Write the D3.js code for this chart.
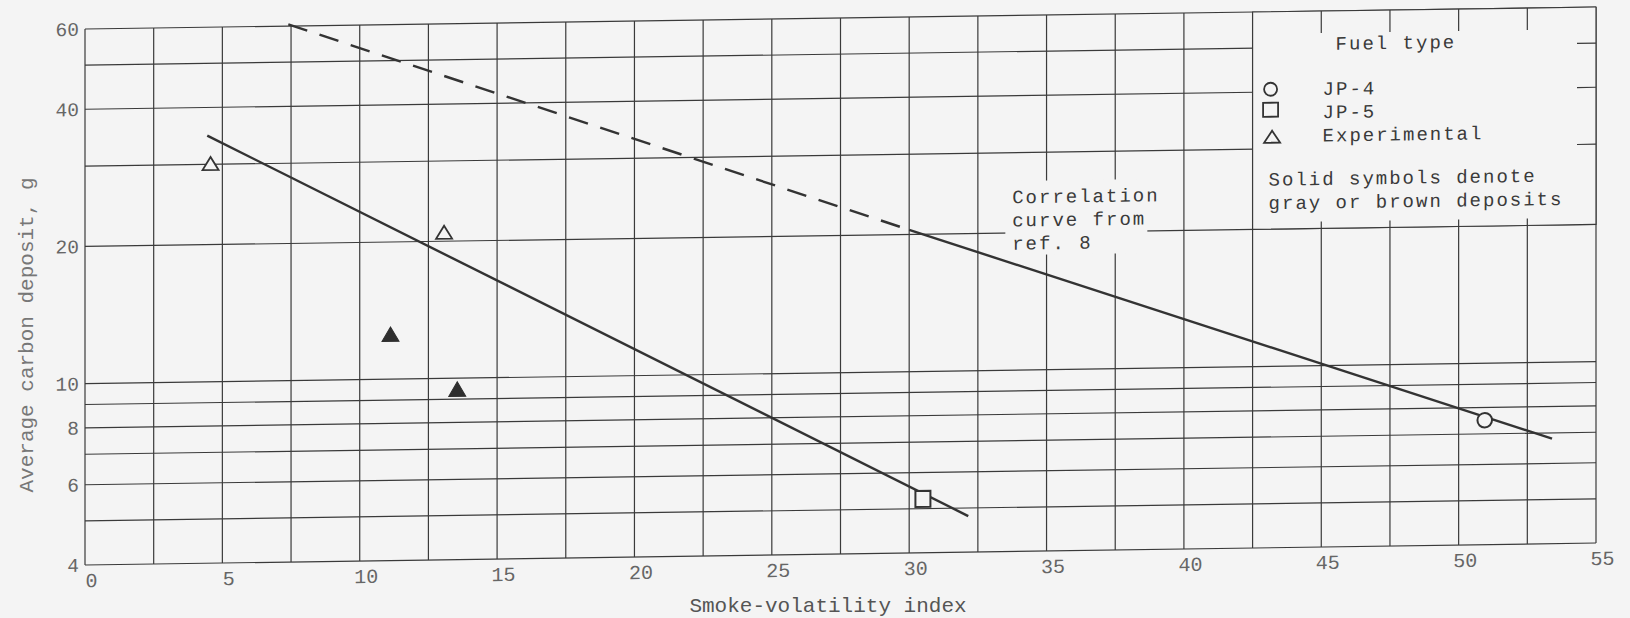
<!DOCTYPE html>
<html>
<head>
<meta charset="utf-8">
<script src="https://cdn.jsdelivr.net/npm/d3@7"></script>
<style>
  body { margin: 0; background: #f4f4f4; }
  svg { display: block; }
  text { font-family: "Liberation Mono", "DejaVu Sans Mono", monospace; }
</style>
</head>
<body>
<svg id="chart"></svg>
<script>
// values
const xTicks = [0, 5, 10, 15, 20, 25, 30, 35, 40, 45, 50, 55];
const yTicks = [4, 6, 8, 10, 20, 40, 60];
const gridX = [0, 2.5, 5, 7.5, 10, 12.5, 15, 17.5, 20, 22.5, 25, 27.5, 30, 32.5, 35, 37.5, 40, 42.5, 45, 47.5, 50, 52.5, 55];
const gridY = [4, 5, 6, 7, 8, 9, 10, 20, 30, 40, 50, 60];

const jp4 = [[50.95, 7.5]];
const jp5 = [[30.5, 5.25]];
const expOpen = [[4.57, 29.8], [13.07, 20.7]];
const expSolid = [[11.12, 12.4], [13.55, 9.35]];

const fitLine = [[4.45, 34.7], [32.15, 4.8]];
const refDashed = [[7.4, 60.5], [30, 20.47]];
const refSolid = [[30, 20.47], [53.4, 6.8]];

const legendItems = ["JP-4", "JP-5", "Experimental"];
const noteLines = ["Correlation", "curve from", "ref. 8"];

var width = 1630, height = 618;
var ink = "#3a3a3a";

var svg = d3.select("#chart")
    .attr("width", width)
    .attr("height", height);

svg.append("rect")
    .attr("width", width)
    .attr("height", height)
    .attr("fill", "#f4f4f4");

var x = d3.scaleLinear().domain([0, 55]).range([85, 1596]);
var y = d3.scaleLog().domain([4, 60]).range([565, 29]);

// the scan is a little crooked, so the whole sheet is sheared a bit
var tilt = -Math.atan(22 / 1512) * 180 / Math.PI;
var g = svg.append("g")
    .attr("transform", "translate(85,565) skewY(" + tilt + ") translate(-85,-565)");

// grid
g.append("g").selectAll("line")
    .data(gridX)
    .join("line")
    .attr("x1", d => x(d)).attr("x2", d => x(d))
    .attr("y1", y(4)).attr("y2", y(60))
    .attr("stroke", ink).attr("stroke-width", 1.2);

g.append("g").selectAll("line")
    .data(gridY)
    .join("line")
    .attr("x1", x(0)).attr("x2", x(55))
    .attr("y1", d => y(d)).attr("y2", d => y(d))
    .attr("stroke", ink).attr("stroke-width", 1.2);

// legend box blanks out the grid
g.append("rect")
    .attr("x", x(42.5)).attr("y", y(60))
    .attr("width", x(55) - x(42.5)).attr("height", y(20) - y(60))
    .attr("fill", "#f4f4f4")
    .attr("stroke", ink).attr("stroke-width", 1.2);

g.append("g").selectAll("line")
    .data([45, 47.5, 50, 52.5])
    .join("line")
    .attr("x1", d => x(d)).attr("x2", d => x(d))
    .attr("y1", y(60)).attr("y2", y(60) + 22)
    .attr("stroke", ink).attr("stroke-width", 1.2);

g.append("g").selectAll("line")
    .data([45, 47.5, 50, 52.5])
    .join("line")
    .attr("x1", d => x(d)).attr("x2", d => x(d))
    .attr("y1", y(20)).attr("y2", y(20) - 7)
    .attr("stroke", ink).attr("stroke-width", 1.2);

g.append("g").selectAll("line")
    .data([50, 40, 30])
    .join("line")
    .attr("x1", x(55)).attr("x2", x(55) - 19)
    .attr("y1", d => y(d)).attr("y2", d => y(d))
    .attr("stroke", ink).attr("stroke-width", 1.2);

// blank patch behind the note
g.append("rect")
    .attr("x", x(33.5)).attr("y", y(20) - 52)
    .attr("width", 142).attr("height", 74)
    .attr("fill", "#f4f4f4");

// axes labels
var xAxis = g.append("g")
    .attr("transform", "translate(0," + y(4) + ")")
    .call(d3.axisBottom(x).tickValues(xTicks).tickSize(0).tickPadding(8).tickFormat(d3.format("d")));
xAxis.select(".domain").remove();
xAxis.selectAll("text")
    .attr("dx", 6)
    .style("font-family", "Liberation Mono")
    .style("font-size", "20px")
    .attr("fill", "#666");

var yAxis = g.append("g")
    .attr("transform", "translate(" + x(0) + ",0)")
    .call(d3.axisLeft(y).tickValues(yTicks).tickSize(0).tickPadding(6).tickFormat(d3.format("d")));
yAxis.select(".domain").remove();
yAxis.selectAll("text")
    .style("font-family", "Liberation Mono")
    .style("font-size", "19.5px")
    .attr("fill", "#666");

// lines
var line = d3.line().x(d => x(d[0])).y(d => y(d[1]));

g.append("path").datum(fitLine)
    .attr("d", line).attr("fill", "none")
    .attr("stroke", "#333").attr("stroke-width", 2.4);

g.append("path").datum(refDashed)
    .attr("d", line).attr("fill", "none")
    .attr("stroke", "#333").attr("stroke-width", 2.4)
    .attr("stroke-dasharray", "20,13");

g.append("path").datum(refSolid)
    .attr("d", line).attr("fill", "none")
    .attr("stroke", "#333").attr("stroke-width", 2.4);

// symbols
function tri(w, h) {
    return "M0," + (-2 * h / 3) + "L" + (w / 2) + "," + (h / 3) + "L" + (-w / 2) + "," + (h / 3) + "Z";
}

g.append("g").selectAll("path")
    .data(expOpen)
    .join("path")
    .attr("transform", d => "translate(" + x(d[0]) + "," + y(d[1]) + ")")
    .attr("d", tri(16, 13))
    .attr("fill", "#f4f4f4").attr("stroke", "#333").attr("stroke-width", 1.8);

g.append("g").selectAll("path")
    .data(expSolid)
    .join("path")
    .attr("transform", d => "translate(" + x(d[0]) + "," + y(d[1]) + ")")
    .attr("d", tri(17, 14.5))
    .attr("fill", "#2e2e2e").attr("stroke", "#2e2e2e").attr("stroke-width", 1);

g.append("g").selectAll("rect")
    .data(jp5)
    .join("rect")
    .attr("x", d => x(d[0]) - 7.5).attr("y", d => y(d[1]) - 8)
    .attr("width", 15).attr("height", 16)
    .attr("fill", "#f4f4f4").attr("stroke", "#333").attr("stroke-width", 2);

g.append("g").selectAll("circle")
    .data(jp4)
    .join("circle")
    .attr("cx", d => x(d[0])).attr("cy", d => y(d[1]))
    .attr("r", 7.3)
    .attr("fill", "#f4f4f4").attr("stroke", "#333").attr("stroke-width", 2);

// legend
var lx = x(42.5), ly = y(60);
var legend = g.append("g").attr("transform", "translate(" + lx + "," + ly + ")")
    .style("font-size", "19px").style("letter-spacing", "2px").attr("fill", "#3a3a3a");

legend.append("text").attr("x", 83).attr("y", 39).text("Fuel type");

legend.append("circle").attr("cx", 18).attr("cy", 77.5).attr("r", 6.5)
    .attr("fill", "none").attr("stroke", "#333").attr("stroke-width", 1.8);
legend.append("rect").attr("x", 10.5).attr("y", 91).attr("width", 15).attr("height", 14)
    .attr("fill", "none").attr("stroke", "#333").attr("stroke-width", 1.8);
legend.append("path").attr("transform", "translate(19.5,127)").attr("d", tri(16, 12))
    .attr("fill", "none").attr("stroke", "#333").attr("stroke-width", 1.8);

legend.selectAll(".item")
    .data(legendItems)
    .join("text")
    .attr("class", "item")
    .attr("x", 70)
    .attr("y", (d, i) => 84 + i * 23.3)
    .text(d => d);

legend.append("text").attr("x", 16).attr("y", 174).text("Solid symbols denote");
legend.append("text").attr("x", 16).attr("y", 197.5).text("gray or brown deposits");

// note on the reference curve
g.append("g").selectAll("text")
    .data(noteLines)
    .join("text")
    .attr("x", x(33.75))
    .attr("y", (d, i) => y(20) - 29.6 + i * 23.2)
    .style("font-size", "19px")
    .style("letter-spacing", "2px")
    .attr("fill", "#3a3a3a")
    .text(d => d);

// axis titles
svg.append("text")
    .attr("x", 828).attr("y", 612)
    .attr("text-anchor", "middle")
    .style("font-size", "21px")
    .attr("fill", "#555")
    .text("Smoke-volatility index");

svg.append("text")
    .attr("transform", "translate(33,335) rotate(-90)")
    .attr("text-anchor", "middle")
    .style("font-size", "21px")
    .attr("fill", "#777")
    .text("Average carbon deposit, g");
</script>
</body>
</html>
